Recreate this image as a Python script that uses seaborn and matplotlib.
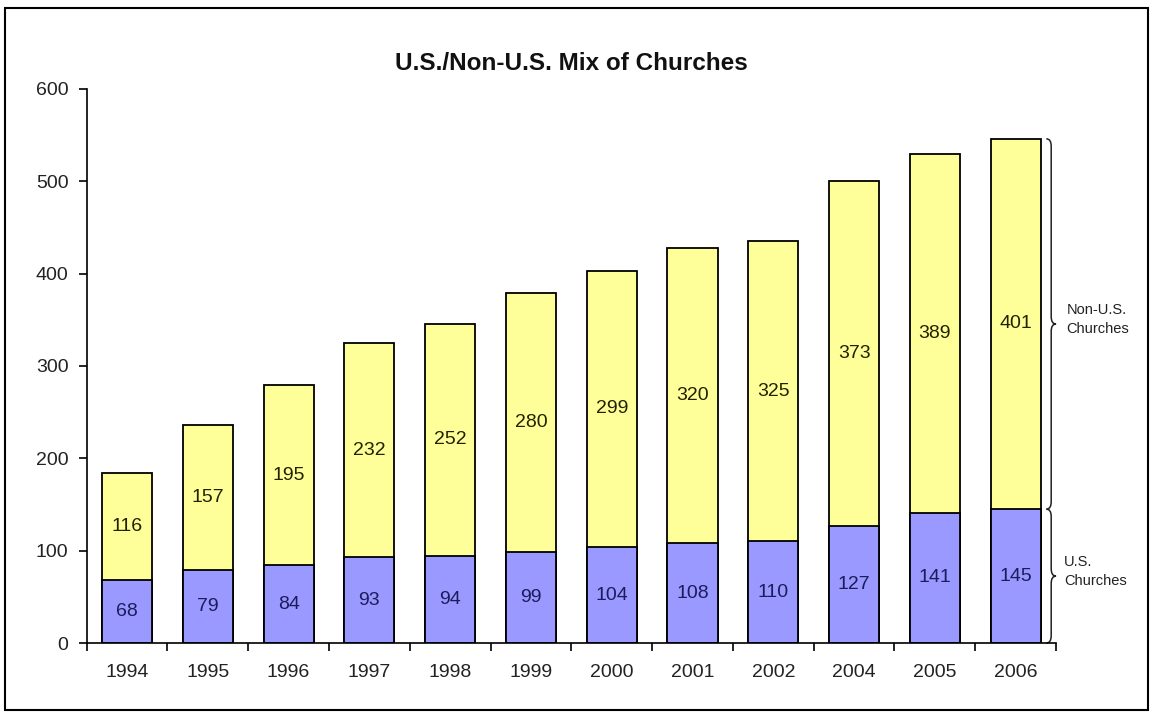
import matplotlib
matplotlib.use("Agg")
import matplotlib.pyplot as plt
import seaborn as sns
import pandas as pd
from matplotlib.path import Path
from matplotlib.patches import PathPatch, Rectangle

years = ["1994", "1995", "1996", "1997", "1998", "1999", "2000", "2001", "2002", "2004", "2005", "2006"]
us_churches = [68, 79, 84, 93, 94, 99, 104, 108, 110, 127, 141, 145]
non_us_churches = [116, 157, 195, 232, 252, 280, 299, 320, 325, 373, 389, 401]
title = "U.S./Non-U.S. Mix of Churches"
y_ticks = [0, 100, 200, 300, 400, 500, 600]

sns.set_style("white")
plt.rcParams["font.family"] = ["Liberation Sans", "DejaVu Sans"]

df = pd.DataFrame({"year": years, "us": us_churches, "non_us": non_us_churches})
df["total"] = df["us"] + df["non_us"]

fig = plt.figure(figsize=(11.51, 7.14), dpi=100)
ax = fig.add_axes([0.0753, 0.0994, 0.8422, 0.776])

yellow = "#FFFF99"
blue = "#9999FF"
bw = 0.62
sns.barplot(data=df, x="year", y="total", color=yellow, saturation=1, width=bw,
            edgecolor="black", linewidth=1.3, ax=ax, order=years)
sns.barplot(data=df, x="year", y="us", color=blue, saturation=1, width=bw,
            edgecolor="black", linewidth=1.3, ax=ax, order=years)

ax.set_xlim(-0.5, len(years) - 0.5)
ax.set_ylim(0, 600)
ax.set_yticks(y_ticks)
ax.set_xlabel("")
ax.set_ylabel("")
for s in ["top", "right"]:
    ax.spines[s].set_visible(False)
for s in ["left", "bottom"]:
    ax.spines[s].set_color("black")
    ax.spines[s].set_linewidth(1.2)

# x: major ticks at boundaries, labels at centers
ax.set_xticks([i - 0.5 for i in range(len(years) + 1)])
ax.set_xticklabels([""] * (len(years) + 1))
ax.set_xticks(range(len(years)), minor=True)
ax.set_xticklabels(years, minor=True)
ax.tick_params(axis="x", which="major", direction="out", length=6, width=1.2, color="black", bottom=True)
ax.tick_params(axis="x", which="minor", length=0, pad=15, labelsize=14, labelcolor="#222222")
ax.tick_params(axis="y", direction="out", length=6, width=1.2, color="black", left=True,
               labelsize=14, labelcolor="#222222", pad=7)

# value labels
for i, (u, n) in enumerate(zip(us_churches, non_us_churches)):
    ax.text(i, u / 2, str(u), ha="center", va="center", fontsize=14, color="#1c1c5c")
    ax.text(i, u + n / 2, str(n), ha="center", va="center", fontsize=14, color="#222200")

ax.set_title(title, fontsize=17.5, fontweight="bold", pad=14, color="#111111")


def brace(ax, x, y0, y1, w, r):
    ym = (y0 + y1) / 2
    xm = x + w * 0.5
    verts = [
        (x, y0), (xm, y0), (xm, y0 + r),
        (xm, ym - r), (xm, ym), (x + w, ym),
        (xm, ym), (xm, ym + r),
        (xm, y1 - r), (xm, y1), (x, y1),
    ]
    codes = [Path.MOVETO, Path.CURVE3, Path.CURVE3,
             Path.LINETO, Path.CURVE3, Path.CURVE3,
             Path.CURVE3, Path.CURVE3,
             Path.LINETO, Path.CURVE3, Path.CURVE3]
    p = PathPatch(Path(verts, codes), fill=False, edgecolor="#222222", lw=1.1, clip_on=False)
    ax.add_patch(p)


last = len(years) - 1
top_total = us_churches[last] + non_us_churches[last]
bx = last + 0.38
brace(ax, bx, 0, us_churches[last], 0.12, 8)
brace(ax, bx, us_churches[last], top_total, 0.12, 8)
ax.text(last + 0.63, us_churches[last] + non_us_churches[last] / 2 + 5, "Non-U.S.\nChurches",
        ha="left", va="center", fontsize=10.5, color="#222222", linespacing=1.45)
ax.text(last + 0.6, us_churches[last] / 2 + 5, "U.S.\nChurches",
        ha="left", va="center", fontsize=10.5, color="#222222", linespacing=1.45)

# figure frame
fig.patches.append(Rectangle((0.004, 0.006), 0.993, 0.983, transform=fig.transFigure,
                             fill=False, edgecolor="black", lw=1.5))

fig.savefig("out.png", dpi=100)
